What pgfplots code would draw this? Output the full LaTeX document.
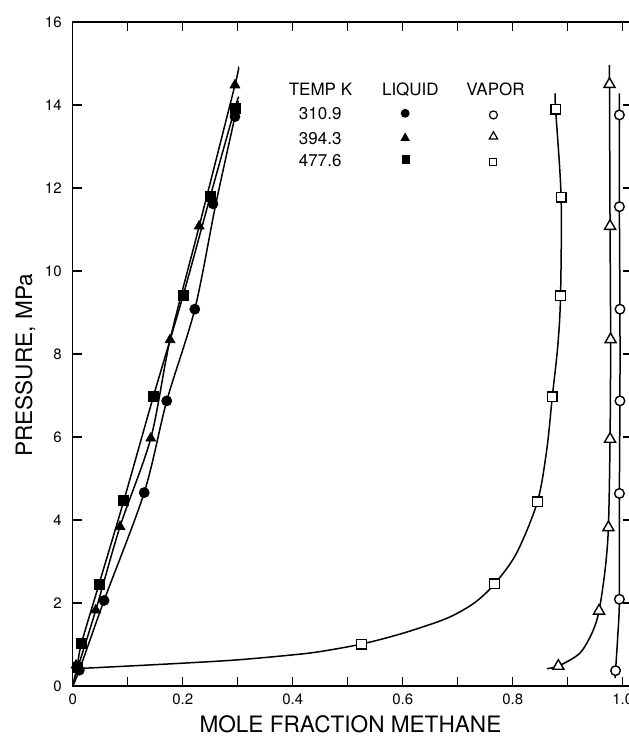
\documentclass[border=0pt]{standalone}
\usepackage{fontspec}
\setmainfont{TeX Gyre Heros}
\usepackage{pgfplots}
\pgfplotsset{compat=1.18}
\begin{document}
\begin{tikzpicture}
\begin{axis}[
  at={(0,0)}, anchor=south west,
  scale only axis,
  width=279.4pt, height=332pt,
  xmin=0, xmax=1.016, ymin=0, ymax=16,
  axis line style={line width=0.8pt},
  xtick={0,0.2,0.4,0.6,0.8,1.0},
  xticklabels={0,0.2,0.4,0.6,0.8,1.0},
  minor xtick={0.1,0.3,0.5,0.7,0.9},
  ytick={0,2,4,6,8,10,12,14,16},
  yticklabels={0,2,4,6,8,10,12,14,16},
  tick align=inside,
  major tick length=4.5pt, minor tick length=4.5pt,
  tick style={line width=0.6pt, black},
  ticklabel style={font=\fontsize{7.5}{9}\selectfont},
  yticklabel style={xshift=-2pt},
  xticklabel style={yshift=-0.5pt},
  xlabel={MOLE FRACTION METHANE},
  ylabel={PRESSURE, MPa},
  label style={font=\fontsize{11.3}{13}\selectfont},
  xlabel style={at={(axis description cs:0.497,0)}, anchor=base, yshift=-23pt},
  ylabel style={at={(axis description cs:0,0.483)}, anchor=base, rotate=0, yshift=20.3pt},
  clip=false,
]
% ---- liquid curves (lines)
\addplot[black, line width=0.75pt, smooth] coordinates {
 (0,0) (0.012,0.38) (0.057,2.06) (0.13,4.66) (0.171,6.87) (0.222,9.08) (0.26,11.6) (0.295,13.72) (0.301,14.1)};
\addplot[black, line width=0.75pt, smooth] coordinates {
 (0,0) (0.006,0.3) (0.042,1.83) (0.086,3.84) (0.142,5.97) (0.177,8.34) (0.23,11.08) (0.295,14.48) (0.301,14.88)};
\addplot[black, line width=0.75pt, smooth] coordinates {
 (0,0) (0.008,0.45) (0.016,1.03) (0.048,2.46) (0.093,4.47) (0.147,6.99) (0.201,9.42) (0.25,11.79) (0.295,13.92) (0.302,14.2)};
% ---- vapor curves (lines)
\addplot[black, line width=0.75pt, smooth, tension=0.5] coordinates {
 (0.008,0.42) (0.1,0.48) (0.2,0.55) (0.3,0.63) (0.4,0.75) (0.45,0.83) (0.525,1.01) (0.6,1.27) (0.68,1.63) (0.73,2.0) (0.767,2.46) (0.807,3.2) (0.845,4.44) (0.862,5.7) (0.872,6.97) (0.882,8.2) (0.887,9.40) (0.888,11.78) (0.878,13.9) (0.877,14.28)};
\addplot[black, line width=0.75pt, smooth, tension=0.5] coordinates {
 (0.862,0.42) (0.883,0.48) (0.922,0.79) (0.945,1.3) (0.957,1.81) (0.968,2.8) (0.974,3.82) (0.977,5.95) (0.978,8.35) (0.977,11.08) (0.976,14.5) (0.976,14.96)};
\addplot[black, line width=0.75pt, smooth, tension=0.5] coordinates {
 (0.986,0.19) (0.987,0.37) (0.991,1.2) (0.994,2.09) (0.994,4.64) (0.995,6.87) (0.995,9.08) (0.994,11.55) (0.994,13.76) (0.994,14.28)};
% ---- liquid markers
\addplot[only marks, mark=*, mark size=2.5pt, black] coordinates {
 (0.012,0.38) (0.057,2.06) (0.13,4.66) (0.171,6.87) (0.222,9.08) (0.255,11.62) (0.295,13.72)};
\addplot[only marks, mark=triangle*, mark size=2.8pt, black] coordinates {
 (0.006,0.5) (0.042,1.83) (0.086,3.84) (0.142,5.97) (0.177,8.34) (0.23,11.08) (0.295,14.48)};
\addplot[only marks, mark=square*, mark size=2.5pt, black] coordinates {
 (0.008,0.45) (0.016,1.03) (0.048,2.46) (0.093,4.47) (0.147,6.99) (0.201,9.42) (0.25,11.79) (0.295,13.92)};
% ---- vapor markers
\addplot[only marks, mark=*, mark size=2.4pt, black, mark options={fill=white, line width=0.7pt}] coordinates {
 (0.987,0.37) (0.994,2.09) (0.994,4.64) (0.995,6.87) (0.995,9.08) (0.994,11.55) (0.994,13.76)};
\addplot[only marks, mark=triangle*, mark size=3.2pt, black, mark options={fill=white, line width=0.7pt}] coordinates {
 (0.883,0.48) (0.957,1.81) (0.974,3.82) (0.977,5.95) (0.978,8.35) (0.977,11.08) (0.976,14.5)};
\addplot[only marks, mark=square*, mark size=2.4pt, black, mark options={fill=white, line width=0.7pt}] coordinates {
 (0.525,1.01) (0.767,2.46) (0.845,4.44) (0.872,6.97) (0.887,9.40) (0.888,11.78) (0.878,13.9)};
% ---- legend table
\addplot[only marks, mark=*, mark size=2pt, black] coordinates {(0.6045,13.8)};
\addplot[only marks, mark=triangle*, mark size=2.4pt, black] coordinates {(0.6045,13.2)};
\addplot[only marks, mark=square*, mark size=1.8pt, black] coordinates {(0.606,12.69)};
\addplot[only marks, mark=*, mark size=2pt, black, mark options={fill=white, line width=0.6pt}] coordinates {(0.765,13.76)};
\addplot[only marks, mark=triangle*, mark size=2.4pt, black, mark options={fill=white, line width=0.6pt}] coordinates {(0.765,13.24)};
\addplot[only marks, mark=square*, mark size=1.8pt, black, mark options={fill=white, line width=0.6pt}] coordinates {(0.764,12.63)};
\begin{scope}[every node/.style={font=\fontsize{8.5}{10}\selectfont, anchor=base, inner sep=0pt}]
\node at (axis cs:0.4505,14.24) {TEMP K};
\node at (axis cs:0.614,14.24) {LIQUID};
\node at (axis cs:0.7687,14.24) {VAPOR};
\node at (axis cs:0.45,13.64) {310.9};
\node at (axis cs:0.45,13.04) {394.3};
\node at (axis cs:0.45,12.51) {477.6};
\end{scope}
\end{axis}
\pgfresetboundingbox
\path[use as bounding box] (-36.35pt,-29pt) rectangle (277.65pt,343pt);
\end{tikzpicture}
\end{document}
